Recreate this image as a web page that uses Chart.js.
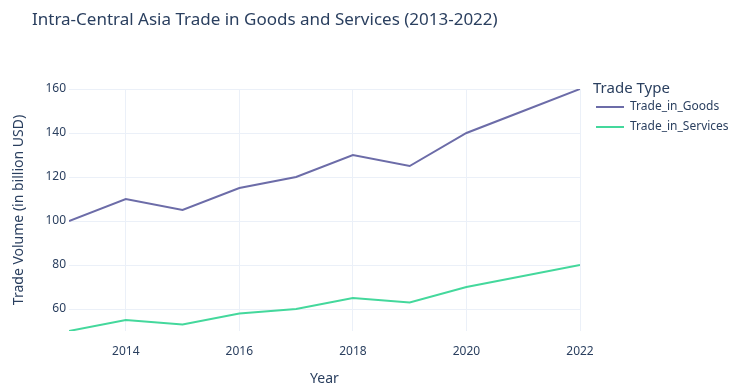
<!DOCTYPE html>
<html>
<head>
<meta charset="utf-8">
<title>Intra-Central Asia Trade</title>
<script src="https://cdn.jsdelivr.net/npm/chart.js@4"></script>
<style>
  html, body { margin: 0; padding: 0; background: #fff; }
  #wrap { width: 730px; height: 385px; position: relative; }
</style>
</head>
<body>
<div id="wrap"><canvas id="tradeChart" width="730" height="385"></canvas></div>
<script>
const years = [2013, 2014, 2015, 2016, 2017, 2018, 2019, 2020, 2021, 2022];
const tradeInGoods = [100, 110, 105, 115, 120, 130, 125, 140, 150, 160];
const tradeInServices = [50, 55, 53, 58, 60, 65, 63, 70, 75, 80];
const xTicks = [2014, 2016, 2018, 2020, 2022];
const yTicks = [60, 80, 100, 120, 140, 160];

const FONT = "'Noto Sans', 'Open Sans', sans-serif";
const INK = '#2a3f5f';
const GRID = '#ebf0f8';

// title and legend drawn by hand so they sit where the layout wants them
const headerAndKey = {
    id: 'headerAndKey',
    afterDraw(chart) {
        const ctx = chart.ctx;
        ctx.save();
        ctx.fillStyle = INK;
        ctx.textBaseline = 'middle';
        ctx.textAlign = 'left';
        ctx.font = '17px ' + FONT;
        ctx.fillText('Intra-Central Asia Trade in Goods and Services (2013-2022)', 32, 20);

        const x0 = chart.chartArea.right + 13;
        ctx.font = '15px ' + FONT;
        ctx.fillText('Trade Type', x0, 89);
        ctx.font = '12px ' + FONT;
        chart.data.datasets.forEach((ds, i) => {
            const y = 107 + i * 20;
            ctx.strokeStyle = ds.borderColor;
            ctx.lineWidth = 2;
            ctx.beginPath();
            ctx.moveTo(x0 + 3, y);
            ctx.lineTo(x0 + 31, y);
            ctx.stroke();
            ctx.fillStyle = INK;
            ctx.fillText(ds.label, x0 + 37, y);
        });
        ctx.restore();
    }
};

function main() {
    const ctx = document.getElementById('tradeChart').getContext('2d');
    new Chart(ctx, {
        type: 'line',
        data: {
            datasets: [
                {
                    label: 'Trade_in_Goods',
                    data: years.map((y, i) => ({ x: y, y: tradeInGoods[i] })),
                    borderColor: '#6c6ca8',
                    borderWidth: 2,
                    pointRadius: 0,
                    fill: false,
                },
                {
                    label: 'Trade_in_Services',
                    data: years.map((y, i) => ({ x: y, y: tradeInServices[i] })),
                    borderColor: '#44d89c',
                    borderWidth: 2,
                    pointRadius: 0,
                    fill: false,
                },
            ],
        },
        options: {
            responsive: false,
            animation: false,
            layout: { padding: { top: 89, right: 150, left: 0, bottom: 0 } },
            plugins: {
                legend: { display: false },
                title: { display: false },
                tooltip: { enabled: false },
            },
            scales: {
                x: {
                    type: 'linear',
                    min: 2013,
                    max: 2022,
                    afterBuildTicks: axis => { axis.ticks = xTicks.map(v => ({ value: v })); },
                    afterFit: axis => { axis.height = 54; },
                    grid: { color: GRID, drawTicks: false },
                    border: { display: false },
                    ticks: {
                        color: INK,
                        font: { family: FONT, size: 12 },
                        padding: 13,
                        maxRotation: 0,
                        callback: v => String(v),
                    },
                    title: {
                        display: true,
                        text: 'Year',
                        color: INK,
                        font: { family: FONT, size: 14 },
                        padding: { top: 0, bottom: -2 },
                    },
                },
                y: {
                    min: 50,
                    max: 160,
                    afterBuildTicks: axis => { axis.ticks = yTicks.map(v => ({ value: v })); },
                    afterFit: axis => { axis.width = 69; },
                    grid: { color: GRID, drawTicks: false },
                    border: { display: false },
                    ticks: {
                        color: INK,
                        font: { family: FONT, size: 12 },
                        padding: 3,
                    },
                    title: {
                        display: true,
                        text: 'Trade Volume (in billion USD)',
                        color: INK,
                        font: { family: FONT, size: 14 },
                        padding: { top: 11, bottom: 0 },
                    },
                },
            },
        },
        plugins: [headerAndKey],
    });
}

document.addEventListener('DOMContentLoaded', () => {
    main();
});
</script>
</body>
</html>
